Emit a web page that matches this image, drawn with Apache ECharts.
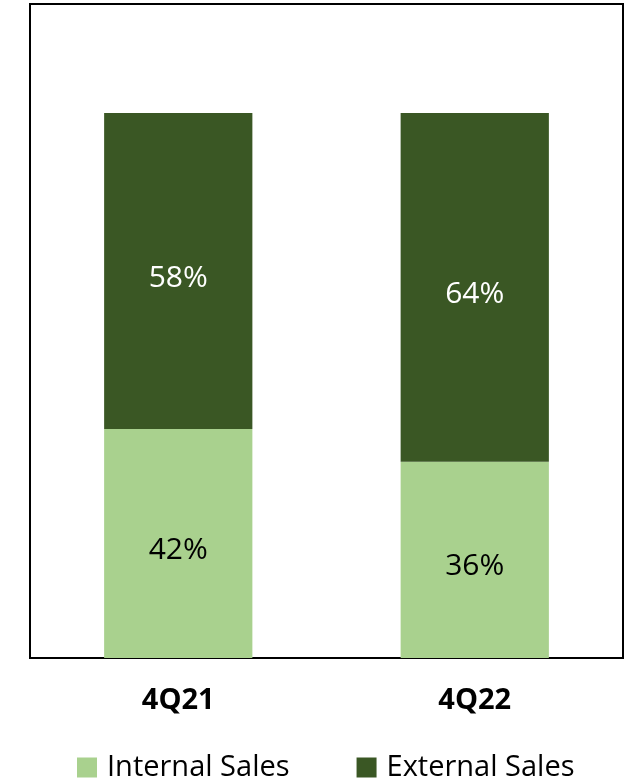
<!DOCTYPE html>
<html>
<head>
<meta charset="utf-8">
<script src="https://cdn.jsdelivr.net/npm/echarts@6/dist/echarts.min.js"></script>
<style>
  html, body { margin: 0; padding: 0; background: #fff; }
  #chart { width: 631px; height: 782px; }
</style>
</head>
<body>
<div id="chart"></div>
<script>
const categories = ['4Q21', '4Q22'];
const internalSales = [42, 36];
const externalSales = [58, 64];
const seriesNames = ['Internal Sales', 'External Sales'];

const font = '"Open Sans", "Noto Sans", sans-serif';
const chart = echarts.init(document.getElementById('chart'));

const option = {
    animation: false,
    textStyle: { fontFamily: font },
    grid: {
        left: 30,
        right: 8,
        top: 4,
        bottom: 124,
        show: true,
        borderColor: '#000',
        borderWidth: 2,
        backgroundColor: '#fff'
    },
    legend: {
        top: 753,
        left: 77,
        padding: 0,
        itemWidth: 20,
        itemHeight: 20,
        itemGap: 67,
        icon: 'rect',
        textStyle: { fontSize: 29, color: '#000', fontFamily: font, padding: [0, 0, 0, 5] },
        data: seriesNames
    },
    xAxis: {
        type: 'category',
        data: categories,
        axisLine: { show: false },
        axisTick: { show: false },
        axisLabel: { fontSize: 29, fontWeight: 'bold', color: '#000', margin: 28, fontFamily: font }
    },
    yAxis: {
        type: 'value',
        min: 0,
        max: 120,
        show: false,
        splitLine: { show: false }
    },
    series: [
        {
            name: seriesNames[0],
            type: 'bar',
            stack: 'total',
            barWidth: '50%',
            data: internalSales,
            itemStyle: { color: '#A9D18E' },
            label: {
                show: true, position: 'inside', offset: [0, 7],
                formatter: '{c}%', fontSize: 30, color: '#000', fontFamily: font
            }
        },
        {
            name: seriesNames[1],
            type: 'bar',
            stack: 'total',
            barWidth: '50%',
            data: externalSales,
            itemStyle: { color: '#3A5724' },
            label: {
                show: true, position: 'inside', offset: [0, 7],
                formatter: '{c}%', fontSize: 30, color: '#fff', fontFamily: font
            }
        }
    ]
};

chart.setOption(option);
</script>
</body>
</html>
